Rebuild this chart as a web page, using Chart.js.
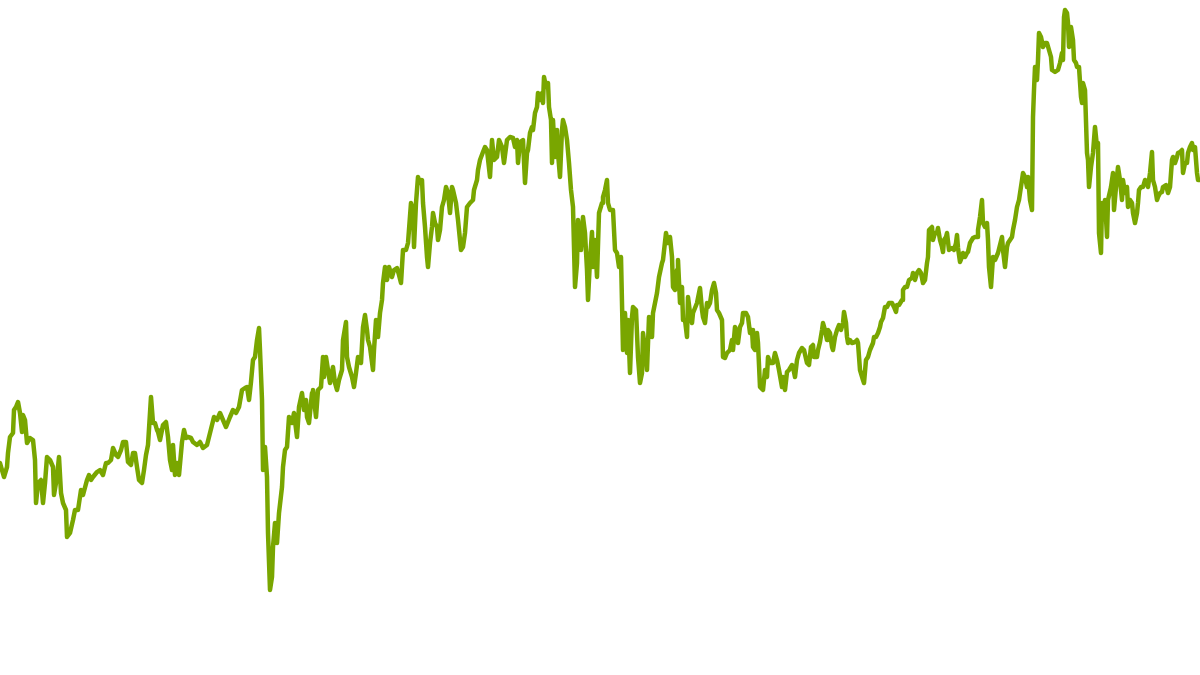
<!DOCTYPE html>
<html>
<head>
<meta charset="utf-8">
<script src="https://cdn.jsdelivr.net/npm/chart.js@4/dist/chart.umd.min.js"></script>
<style>
  html, body { margin: 0; padding: 0; background: #ffffff; }
  #wrap { width: 1200px; height: 675px; position: relative; }
</style>
</head>
<body>
<div id="wrap"><canvas id="c"></canvas></div>
<script>
// Trading-day positions (x) of each observation
const days = [
0,4,7,8,10,13,14,16,18,20,22,23,25,27,30,33,35,36,38,41,43,45,47,50,53,54,57,59,61,63,66,67,70,73,75,78,81,83,87,89,91,93,97,100,103,106,108,111,113,116,118,121,123,126,128,131,133,135,137,139,142,144,146,148,151,153,155,157,158,160,163,166,168,170,172,173,175,177,179,182,184,186,188,191,193,197,200,
203,207,210,214,217,220,223,226,230,233,236,239,242,245,247,249,251,253,255,257,259,260,262,263,265,267,268,270,272,273,275,277,279,282,283,285,287,289,292,294,297,299,302,304,306,307,309,312,313,316,318,321,323,324,326,328,330,333,335,337,339,342,343,346,347,349,352,354,356,358,361,363,365,367,368,370,373,374,376,378,380,382,383,385,387,389,392,394,397,399,
401,403,406,408,411,413,414,416,418,420,422,423,425,427,428,430,432,433,435,437,438,440,442,444,446,448,450,452,453,456,458,461,463,465,467,470,473,474,477,478,480,483,485,487,490,492,494,497,499,502,504,507,510,513,515,517,518,520,523,525,527,528,530,532,533,535,537,538,540,542,543,544,546,548,549,551,552,553,555,557,558,560,562,563,565,567,569,571,
573,575,577,578,581,583,585,587,588,590,592,593,595,597,599,602,603,605,607,608,610,613,615,617,619,621,622,623,625,627,628,630,632,633,636,638,640,642,643,646,647,649,652,653,657,659,662,663,666,668,670,672,673,675,677,678,680,682,683,685,687,688,690,692,693,697,700,702,703,705,707,708,710,712,714,716,717,719,722,723,725,727,730,732,733,735,737,738,740,742,743,746,748,750,
752,753,755,757,758,760,763,765,767,768,770,773,775,777,779,782,783,785,787,789,792,793,795,797,799,802,804,807,809,811,813,814,817,818,820,822,823,825,827,828,830,832,833,835,837,839,841,843,844,846,847,848,850,852,855,857,858,860,863,864,866,868,870,873,874,876,878,880,881,883,885,887,889,892,894,896,897,899,902,903,905,907,909,912,913,915,917,919,921,923,925,927,928,929,932,933,935,937,938,940,942,943,944,946,947,949,952,954,956,957,958,960,962,963,965,967,968,970,973,975,977,978,980,982,983,985,987,988,989,991,
993,995,998,1002,1003,1005,1007,1008,1012,1013,1015,1017,1019,1022,1023,1025,1027,1028,1030,1032,1033,1034,1035,1037,1038,1039,1041,1043,1045,1047,1049,1051,1052,1055,1058,1060,1062,1063,1064,1065,1067,1068,1069,1071,1073,1074,1076,1077,1079,1081,1082,1083,1085,1087,1088,1089,1091,1093,1094,1095,1097,1098,1099,1101,1102,1103,1105,1107,1108,1111,1113,1114,1116,1118,1120,1122,1123,1125,1127,1128,1130,1132,1133,1135,1137,1138,1139,1141,1143,1145,1147,1148,1150,1152,1153,1155,1157,1158,1160,1162,1163,1166,1168,1170,1172,1173,1175,1177,1178,1180,1182,1183,1185,1187,1188,1190,1192,1193,1195,1197,1198,1200
];

// Index value at each observation
const values = [
212,198,208,222,238,242,265,268,273,262,243,260,255,232,237,235,215,172,192,195,172,192,218,215,208,180,198,218,182,172,165,138,142,155,165,165,185,180,195,200,195,198,203,205,200,212,212,215,227,220,218,225,233,233,213,210,222,222,208,195,192,205,220,230,278,252,252,245,243,235,250,253,238,215,205,230,200,212,200,233,245,237,238,237,233,230,233,
227,230,242,258,255,262,255,248,258,265,262,268,285,287,288,275,293,315,318,335,347,325,275,205,228,198,142,85,98,128,152,132,162,188,208,225,228,258,252,262,238,268,282,265,275,258,252,282,285,258,285,288,318,298,318,305,292,308,292,285,295,305,335,353,318,308,298,288,302,318,312,348,360,345,335,328,305,325,355,338,362,375,392,408,395,408,398,405,407,400,
392,425,425,432,472,465,428,472,498,492,495,472,448,418,408,432,448,462,452,448,435,445,468,475,488,482,462,488,485,472,455,425,428,442,468,472,475,485,495,505,515,523,528,525,498,535,515,518,535,528,512,535,538,537,528,535,512,533,535,492,522,525,542,548,545,562,568,582,575,582,572,598,588,592,568,555,512,555,518,545,522,498,545,555,548,535,512,485,
468,388,412,455,425,458,442,405,375,415,443,408,435,398,462,472,478,485,495,472,465,465,425,422,408,418,372,325,362,322,355,302,358,368,365,318,292,302,342,318,305,358,338,362,382,398,412,415,442,432,438,418,388,385,405,415,372,388,355,355,338,378,362,352,362,372,387,365,358,352,372,368,372,385,392,382,365,362,355,318,317,322,325,335,325,348,342,332,348,352,362,362,358,342,
345,328,325,342,332,288,285,305,298,318,312,312,322,315,305,288,298,285,303,305,310,308,298,315,322,327,325,312,310,328,330,318,318,325,333,345,352,345,335,345,342,328,325,338,345,350,345,352,363,352,338,332,335,332,333,335,332,305,295,292,315,318,325,332,338,338,342,348,353,357,368,368,372,372,368,363,370,370,375,385,388,388,395,397,402,395,402,405,402,392,395,412,418,445,448,435,442,442,447,435,428,423,435,438,442,425,427,425,432,440,427,413,418,422,418,422,423,432,437,438,438,445,458,475,452,448,452,435,408,388,
418,415,422,438,425,408,428,432,438,445,455,468,475,495,502,498,488,498,475,465,558,585,608,595,615,642,638,628,632,632,625,618,605,603,605,612,622,615,658,665,662,652,628,648,635,615,612,608,608,578,572,592,585,522,515,488,508,522,535,548,528,532,442,422,472,458,475,438,475,488,502,465,488,508,495,475,495,482,488,468,475,472,462,452,462,472,485,488,488,495,492,488,502,523,495,488,475,478,482,483,488,490,482,488,515,518,512,518,522,523,525,502,512,512,522,528,532,525,528,502,495,495
];

const points = days.map((d, i) => ({ x: d, y: values[i] }));

new Chart(document.getElementById('c'), {
  type: 'line',
  data: {
    datasets: [{
      data: points,
      borderColor: '#79a600',
      borderWidth: 4.5,
      pointRadius: 0,
      tension: 0,
      fill: false,
      borderCapStyle: 'round',
      borderJoinStyle: 'round'
    }]
  },
  options: {
    responsive: true,
    maintainAspectRatio: false,
    animation: false,
    layout: { padding: 0 },
    plugins: { legend: { display: false }, tooltip: { enabled: false } },
    scales: {
      x: { type: 'linear', min: 0, max: 1200, display: false },
      y: { type: 'linear', min: 0, max: 675, display: false }
    }
  }
});
</script>
</body>
</html>
